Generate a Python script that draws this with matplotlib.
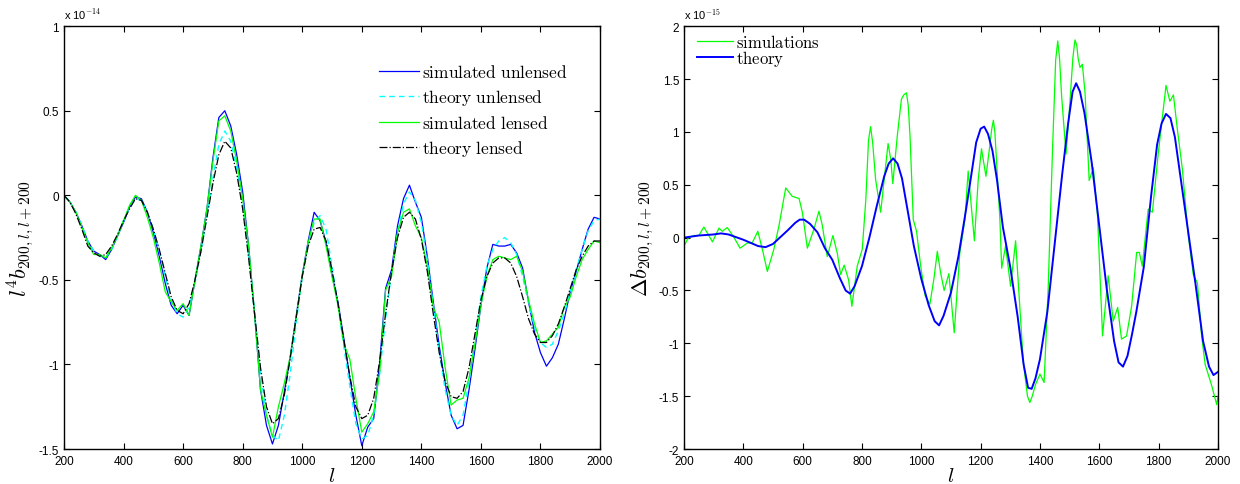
import numpy as np
import matplotlib
matplotlib.use("Agg")
import matplotlib.pyplot as plt

plt.rcParams["font.family"] = ["Liberation Sans", "DejaVu Sans"]
plt.rcParams["mathtext.fontset"] = "cm"
plt.rcParams["axes.unicode_minus"] = False

# ---- left panel: l^4 b (units of 1e-14), sampled every 20 in l ----
l_left = list(range(200, 2001, 20))

sim_unlensed = [
    0.00, -0.04, -0.10, -0.18, -0.27, -0.33, -0.35, -0.38, -0.32, -0.24,
    -0.16, -0.07, -0.01, -0.02, -0.10, -0.22, -0.36, -0.52, -0.65, -0.70,
    -0.65, -0.71, -0.50, -0.30, -0.08, 0.22, 0.46, 0.50, 0.41, 0.24,
    0.02, -0.30, -0.70, -1.15, -1.36, -1.47, -1.36, -1.16, -0.95, -0.71,
    -0.47, -0.27, -0.10, -0.15, -0.28, -0.47, -0.63, -0.85, -1.08, -1.30,
    -1.48, -1.37, -1.32, -0.99, -0.55, -0.44, -0.18, -0.02, 0.06, -0.04,
    -0.13, -0.36, -0.63, -0.89, -1.11, -1.30, -1.38, -1.36, -1.15, -0.91,
    -0.65, -0.43, -0.29, -0.30, -0.30, -0.29, -0.34, -0.43, -0.63, -0.81,
    -0.93, -1.01, -0.96, -0.88, -0.73, -0.57, -0.45, -0.32, -0.20, -0.13,
    -0.14]

theory_unlensed = [
    0.00, -0.04, -0.10, -0.18, -0.27, -0.33, -0.36, -0.37, -0.32, -0.24,
    -0.15, -0.07, -0.02, -0.03, -0.10, -0.20, -0.33, -0.48, -0.62, -0.70,
    -0.72, -0.66, -0.52, -0.33, -0.12, 0.10, 0.30, 0.38, 0.32, 0.16,
    -0.06, -0.35, -0.70, -1.05, -1.30, -1.42, -1.45, -1.30, -1.05, -0.75,
    -0.48, -0.28, -0.16, -0.12, -0.20, -0.42, -0.65, -0.90, -1.13, -1.35,
    -1.44, -1.42, -1.30, -1.05, -0.73, -0.45, -0.22, -0.05, 0.02, -0.03,
    -0.16, -0.38, -0.65, -0.92, -1.15, -1.30, -1.36, -1.30, -1.10, -0.85,
    -0.60, -0.42, -0.32, -0.27, -0.25, -0.28, -0.35, -0.48, -0.64, -0.78,
    -0.87, -0.90, -0.88, -0.80, -0.70, -0.57, -0.44, -0.32, -0.21, -0.15,
    -0.14]

sim_lensed = [
    0.00, -0.04, -0.10, -0.19, -0.28, -0.35, -0.35, -0.37, -0.31, -0.24,
    -0.15, -0.06, 0.00, -0.03, -0.13, -0.25, -0.40, -0.57, -0.63, -0.68,
    -0.64, -0.71, -0.50, -0.30, -0.08, 0.20, 0.44, 0.47, 0.38, 0.20,
    -0.02, -0.30, -0.70, -1.15, -1.30, -1.43, -1.25, -1.11, -0.95, -0.72,
    -0.48, -0.28, -0.14, -0.14, -0.30, -0.48, -0.65, -0.88, -0.97, -1.20,
    -1.40, -1.35, -1.28, -1.05, -0.56, -0.48, -0.22, -0.10, -0.08, -0.18,
    -0.25, -0.42, -0.66, -0.75, -1.02, -1.24, -1.21, -1.20, -1.08, -0.88,
    -0.65, -0.48, -0.38, -0.36, -0.37, -0.38, -0.36, -0.45, -0.62, -0.76,
    -0.87, -0.86, -0.82, -0.78, -0.66, -0.60, -0.48, -0.38, -0.32, -0.27,
    -0.28]

theory_lensed = [
    0.00, -0.04, -0.11, -0.20, -0.30, -0.34, -0.36, -0.35, -0.30, -0.23,
    -0.15, -0.08, -0.02, -0.03, -0.10, -0.20, -0.32, -0.46, -0.60, -0.68,
    -0.70, -0.64, -0.50, -0.33, -0.13, 0.07, 0.24, 0.32, 0.28, 0.13,
    -0.08, -0.37, -0.70, -1.02, -1.25, -1.35, -1.32, -1.18, -0.96, -0.72,
    -0.48, -0.30, -0.20, -0.19, -0.27, -0.44, -0.64, -0.86, -1.07, -1.25,
    -1.32, -1.30, -1.20, -0.98, -0.70, -0.45, -0.25, -0.13, -0.10, -0.14,
    -0.26, -0.45, -0.70, -0.93, -1.10, -1.19, -1.20, -1.16, -1.02, -0.82,
    -0.62, -0.48, -0.40, -0.37, -0.37, -0.40, -0.48, -0.60, -0.73, -0.82,
    -0.87, -0.87, -0.83, -0.76, -0.66, -0.55, -0.44, -0.36, -0.30, -0.27,
    -0.27]

# ---- right panel: Delta b (units of 1e-15) ----
l_theory = [
    200, 250, 300, 325, 350, 400, 450, 475, 500, 550, 575, 590, 605, 625,
    650, 675, 700, 725, 745, 760, 775, 800, 825, 850, 875, 890, 905, 920,
    935, 950, 975, 1000, 1025, 1045, 1060, 1075, 1100, 1125, 1150, 1170,
    1185, 1200, 1212, 1225, 1240, 1255, 1275, 1300, 1325, 1345, 1360, 1372,
    1385, 1400, 1425, 1450, 1475, 1495, 1510, 1522, 1535, 1550, 1575, 1600,
    1625, 1650, 1665, 1680, 1695, 1710, 1725, 1750, 1775, 1795, 1810, 1825,
    1840, 1855, 1875, 1900, 1925, 1950, 1970, 1985, 2000]
theory_diff = [
    0.00, 0.02, 0.03, 0.04, 0.03, -0.02, -0.08, -0.09, -0.06, 0.07, 0.14,
    0.17, 0.17, 0.13, 0.05, -0.10, -0.21, -0.38, -0.50, -0.53, -0.46, -0.27,
    0.00, 0.30, 0.58, 0.70, 0.75, 0.70, 0.56, 0.32, -0.08, -0.39, -0.64,
    -0.79, -0.83, -0.74, -0.52, -0.18, 0.25, 0.62, 0.90, 1.03, 1.05, 0.98,
    0.82, 0.55, 0.10, -0.28, -0.75, -1.20, -1.42, -1.43, -1.33, -1.15,
    -0.70, -0.05, 0.60, 1.08, 1.38, 1.46, 1.38, 1.18, 0.70, 0.11, -0.48,
    -0.98, -1.18, -1.22, -1.12, -0.92, -0.70, -0.28, 0.40, 0.88, 1.08, 1.17,
    1.13, 0.95, 0.55, 0.05, -0.45, -0.98, -1.22, -1.30, -1.27]

l_sim = [
    200, 215, 234, 250, 267, 296, 318, 329, 346, 369, 389, 414, 430, 449,
    465, 481, 503, 520, 543, 565, 588, 599, 616, 638, 655, 666, 683, 702,
    717, 728, 740, 755, 766, 784, 801, 813, 822, 829, 836, 846, 863, 876,
    888, 897, 904, 919, 933, 941, 950, 956, 962, 973, 984, 998, 1013, 1029,
    1043, 1054, 1065, 1077, 1093, 1111, 1130, 1147, 1158, 1179, 1192, 1203,
    1218, 1231, 1237, 1243, 1248, 1254, 1265, 1271, 1284, 1301, 1318, 1329,
    1344, 1358, 1366, 1374, 1385, 1400, 1414, 1428, 1442, 1453, 1460, 1466,
    1473, 1488, 1501, 1511, 1518, 1524, 1529, 1535, 1543, 1552, 1566, 1580,
    1594, 1611, 1630, 1647, 1662, 1675, 1692, 1709, 1726, 1735, 1745, 1765,
    1779, 1799, 1825, 1838, 1850, 1863, 1880, 1900, 1917, 1931, 1945, 1957,
    1979, 1996, 2000]
sim_diff = [
    -0.08, 0.00, 0.02, 0.02, 0.10, -0.04, 0.09, 0.06, 0.095, 0.00, -0.10,
    -0.05, -0.05, 0.06, -0.12, -0.32, -0.11, 0.11, 0.47, 0.39, 0.37, 0.24,
    -0.10, 0.08, 0.25, 0.12, -0.18, 0.02, -0.15, -0.35, -0.26, -0.40, -0.65,
    -0.27, -0.11, 0.36, 0.92, 1.05, 0.90, 0.55, 0.24, 0.58, 0.89, 0.74,
    0.51, 0.96, 1.31, 1.35, 1.37, 1.25, 0.96, 0.17, 0.06, -0.27, -0.55,
    -0.63, -0.38, -0.13, -0.33, -0.50, -0.34, -0.90, -0.14, 0.17, 0.63,
    -0.03, 0.55, 0.84, 0.58, 0.87, 1.02, 1.11, 1.00, 0.71, 0.17, -0.29,
    -0.08, -0.46, -0.03, -0.52, -1.18, -1.50, -1.56, -1.50, -1.39, -1.29,
    -1.37, -0.46, 0.80, 1.68, 1.86, 1.70, 1.34, 0.79, 1.28, 1.70, 1.87,
    1.82, 1.69, 1.61, 1.64, 1.37, 0.54, 0.66, 0.21, -0.93, -0.36, -0.79,
    -0.66, -0.96, -0.93, -0.65, -0.14, -0.14, -0.27, 0.27, 0.24, 0.80, 1.44,
    1.29, 1.35, 1.03, 0.65, 0.02, -0.35, -0.43, -0.93, -1.20, -1.40, -1.58,
    -1.50]

x_ticks = [200, 400, 600, 800, 1000, 1200, 1400, 1600, 1800, 2000]
left_yticks = [-1.5, -1, -0.5, 0, 0.5, 1]
right_yticks = [-2, -1.5, -1, -0.5, 0, 0.5, 1, 1.5, 2]


def style_axes(ax, yticks, exponent):
    ax.set_xlim(200, 2000)
    ax.set_ylim(yticks[0], yticks[-1])
    ax.set_xticks(x_ticks)
    ax.set_xticklabels([str(t) for t in x_ticks])
    ax.set_yticks(yticks)
    ax.set_yticklabels(["%g" % t for t in yticks])
    ax.tick_params(direction="in", top=True, right=True, length=4,
                   width=0.8, labelsize=8.5)
    ax.tick_params(axis="x", pad=4.5)
    for s in ax.spines.values():
        s.set_linewidth(1.0)
    ax.set_xlabel("$l$", fontsize=15, labelpad=-1)
    ax.text(0, 1.012, r"x 10$^{%d}$" % exponent, transform=ax.transAxes,
            fontsize=8, va="bottom", ha="left")


fig = plt.figure(figsize=(12.4, 4.85), dpi=100)

# Left panel
ax1 = fig.add_axes([0.0516, 0.072, 0.4323, 0.872])
ax1.plot(l_left, sim_unlensed, color="#0000ff", lw=0.9, label=r"$\mathrm{simulated\ unlensed}$")
ax1.plot(l_left, theory_unlensed, color="#00ffff", lw=1.0, ls=(0, (4, 3)), label=r"$\mathrm{theory\ unlensed}$")
ax1.plot(l_left, sim_lensed, color="#00ff00", lw=0.9, label=r"$\mathrm{simulated\ lensed}$")
ax1.plot(l_left, theory_lensed, color="black", lw=0.9, ls="-.", label=r"$\mathrm{theory\ lensed}$")
style_axes(ax1, left_yticks, -14)
ax1.set_ylabel("$l^4 b_{200,l,l+200}$", fontsize=16, labelpad=2)
ax1.legend(loc="upper right", bbox_to_anchor=(0.94, 0.912), frameon=False,
           fontsize=12.5, handlelength=2.3, handletextpad=0.2,
           labelspacing=0.4, borderpad=0, borderaxespad=0)

# Right panel
ax2 = fig.add_axes([0.5516, 0.072, 0.4306, 0.872])
ax2.plot(l_sim, sim_diff, color="#00ff00", lw=0.9, label=r"$\mathrm{simulations}$")
ax2.plot(l_theory, theory_diff, color="#0000ff", lw=1.4, label=r"$\mathrm{theory}$")
style_axes(ax2, right_yticks, -15)
ax2.set_ylabel(r"$\Delta b_{200,l,l+200}$", fontsize=16, labelpad=2)
ax2.legend(loc="upper left", bbox_to_anchor=(0.024, 0.985), frameon=False,
           fontsize=12, handlelength=2.2, handletextpad=0.15,
           labelspacing=-0.08, borderpad=0, borderaxespad=0)

fig.savefig("out.png", dpi=100)
